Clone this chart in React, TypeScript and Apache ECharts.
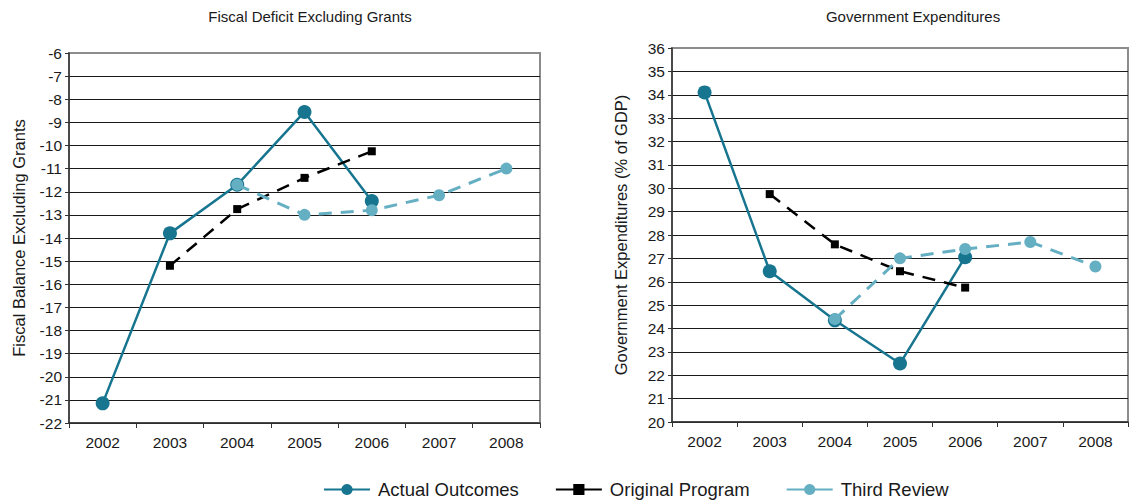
import React, { useEffect, useRef } from "react";
import * as echarts from "echarts";

const years = ["2002", "2003", "2004", "2005", "2006", "2007", "2008"];

const fiscalActual = [-21.15, -13.8, -11.7, -8.55, -12.4, null, null];
const fiscalOriginal = [null, -15.2, -12.75, -11.4, -10.25, null, null];
const fiscalThird = [null, null, -11.7, -13.0, -12.8, -12.15, -11.0];

const expActual = [34.1, 26.45, 24.35, 22.5, 27.05, null, null];
const expOriginal = [null, 29.75, 27.6, 26.45, 25.75, null, null];
const expThird = [null, null, 24.4, 27.0, 27.4, 27.7, 26.65];

const seriesNames = ["Actual Outcomes", "Original Program", "Third Review"];

const DARK = "#17758f";
const LIGHT = "#65afc3";
const FONT = "Liberation Sans, Arial, Helvetica, sans-serif";

function splitColors(n: number) {
  const arr: string[] = [];
  for (let i = 0; i < n; i++) arr.push("#1a1a1a");
  arr[n - 1] = "#8c8c8c";
  return arr;
}

export default function App() {
  const ref = useRef<HTMLDivElement>(null);
  useEffect(() => {
    if (!ref.current) return;
    const chart = echarts.init(ref.current, null, { renderer: "svg" });
    const xAxisBase = (gridIndex: number) => ({
      type: "category",
      gridIndex,
      data: years,
      boundaryGap: true,
      axisLine: { lineStyle: { color: "#333", width: 1.5 } },
      axisTick: { show: true, length: 5, lineStyle: { color: "#333" } },
      axisLabel: { color: "#1a1a1a", fontSize: 15.5, fontFamily: FONT, margin: 11 },
      splitLine: { show: false },
    });
    const yAxisBase = (gridIndex: number, min: number, max: number, name: string, gap: number) => ({
      type: "value",
      gridIndex,
      min,
      max,
      interval: 1,
      name,
      nameLocation: "middle",
      nameGap: gap,
      nameTextStyle: { color: "#1a1a1a", fontSize: 16.5, fontFamily: FONT },
      axisLine: { show: true, lineStyle: { color: "#333", width: 1.5 } },
      axisTick: { show: true, length: 4, lineStyle: { color: "#333" } },
      axisLabel: { color: "#1a1a1a", fontSize: 15.5, fontFamily: FONT, margin: 7 },
      splitLine: { show: true, lineStyle: { color: splitColors(max - min + 1), width: 1 } },
    });
    const mk = (name: string, data: (number | null)[], idx: number) => {
      if (name === "Actual Outcomes") {
        return {
          name, type: "line", data, xAxisIndex: idx, yAxisIndex: idx,
          symbol: "circle", symbolSize: 14, showAllSymbol: true,
          lineStyle: { color: DARK, width: 2.5, type: "solid" },
          itemStyle: { color: DARK },
          z: 2,
        };
      }
      if (name === "Original Program") {
        return {
          name, type: "line", data, xAxisIndex: idx, yAxisIndex: idx,
          symbol: "rect", symbolSize: 8,
          lineStyle: { color: "#000", width: 2.5, type: [13, 9] },
          itemStyle: { color: "#000" },
          z: 3,
        };
      }
      return {
        name, type: "line", data, xAxisIndex: idx, yAxisIndex: idx,
        symbol: "circle", symbolSize: 12,
        lineStyle: { color: LIGHT, width: 3, type: [13, 9] },
        itemStyle: { color: LIGHT },
        z: 4,
      };
    };
    chart.setOption({
      animation: false,
      backgroundColor: "#fff",
      title: [
        { text: "Fiscal Deficit Excluding Grants", left: 305, top: 4, textAlign: "center",
          textStyle: { fontSize: 15, fontWeight: "normal", color: "#1a1a1a", fontFamily: FONT } },
        { text: "Government Expenditures", left: 908, top: 4, textAlign: "center",
          textStyle: { fontSize: 15, fontWeight: "normal", color: "#1a1a1a", fontFamily: FONT } },
      ],
      legend: {
        data: seriesNames,
        left: 318,
        top: 475,
        itemWidth: 46,
        itemHeight: 14,
        itemGap: 36,
        textStyle: { fontSize: 18.5, color: "#1a1a1a", fontFamily: FONT, padding: [0, 0, 0, 3] },
        lineStyle: { type: "solid" },
      },
      grid: [
        { left: 69, top: 53, width: 471, height: 370, show: true, borderColor: "#8c8c8c", borderWidth: 2, backgroundColor: "transparent" },
        { left: 672, top: 48, width: 456, height: 374, show: true, borderColor: "#8c8c8c", borderWidth: 2, backgroundColor: "transparent" },
      ],
      xAxis: [xAxisBase(0), xAxisBase(1)],
      yAxis: [
        yAxisBase(0, -22, -6, "Fiscal Balance Excluding Grants", 42),
        yAxisBase(1, 20, 36, "Government Expenditures (% of GDP)", 43),
      ],
      series: [
        mk("Actual Outcomes", fiscalActual, 0),
        mk("Original Program", fiscalOriginal, 0),
        mk("Third Review", fiscalThird, 0),
        mk("Actual Outcomes", expActual, 1),
        mk("Original Program", expOriginal, 1),
        mk("Third Review", expThird, 1),
      ],
    });
    return () => chart.dispose();
  }, []);
  return (
    <div
      ref={ref}
      style={{ position: "absolute", left: 0, top: 0, width: 1130, height: 501 }}
    />
  );
}
